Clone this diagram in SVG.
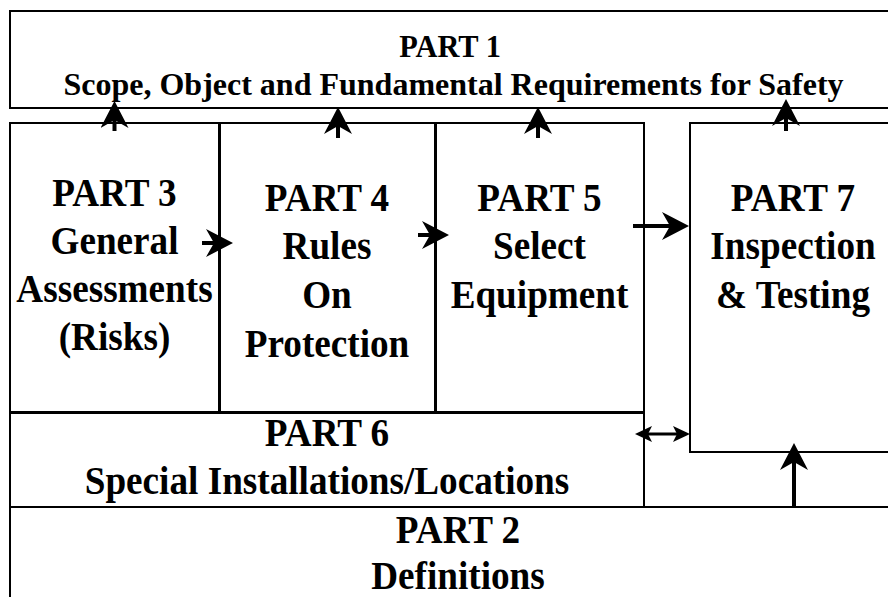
<svg xmlns="http://www.w3.org/2000/svg" width="888" height="597" viewBox="0 0 888 597">
<style>
.box{fill:#fff;stroke:#000;stroke-width:2}
.t{font-family:"Liberation Serif","Times New Roman",serif;font-weight:bold;font-size:40px;fill:#000;text-anchor:middle}
.s{font-size:32px}
.c{stroke:#000;stroke-width:4;fill:none}
.c2{stroke:#000;stroke-width:3;fill:none}
</style>
<defs>
<marker id="ah" markerUnits="userSpaceOnUse" viewBox="0 0 27 28" refX="20" refY="14" markerWidth="27" markerHeight="28" orient="auto">
<path d="M0,0 L27,14 L0,28 L8,14 Z" fill="#000"/>
</marker>
<marker id="sh" markerUnits="userSpaceOnUse" viewBox="0 0 17 16" refX="13" refY="8" markerWidth="17" markerHeight="16" orient="auto-start-reverse">
<path d="M0,0 L17,8 L0,16 L4,8 Z" fill="#000"/>
</marker>
</defs>
<rect width="888" height="597" fill="#fff"/>
<g id="part1">
<rect class="box" x="10" y="11" width="900" height="97"/>
<text class="t s" transform="translate(450,57) scale(0.95,1)">PART 1</text>
<text class="t s" x="453.5" y="95">Scope, Object and Fundamental Requirements for Safety</text>
</g>
<g id="part2">
<rect class="box" x="10" y="507" width="900" height="120"/>
<text class="t" transform="translate(458,543) scale(0.93,1)">PART 2</text>
<text class="t" transform="translate(458,589) scale(0.93,1)">Definitions</text>
</g>
<g id="part3">
<rect class="box" x="10" y="123" width="209" height="289"/>
<text class="t" transform="translate(114.5,206) scale(0.93,1)">PART 3</text>
<text class="t" transform="translate(114.5,254) scale(0.93,1)">General</text>
<text class="t" transform="translate(114.5,302) scale(0.93,1)">Assessments</text>
<text class="t" transform="translate(114.5,350) scale(0.93,1)">(Risks)</text>
</g>
<g id="part4">
<rect class="box" x="220" y="123" width="215" height="289"/>
<text class="t" transform="translate(327,211) scale(0.93,1)">PART 4</text>
<text class="t" transform="translate(327,259) scale(0.93,1)">Rules</text>
<text class="t" transform="translate(327,308) scale(0.93,1)">On</text>
<text class="t" transform="translate(327,357) scale(0.93,1)">Protection</text>
</g>
<g id="part5">
<rect class="box" x="436" y="123" width="208" height="289"/>
<text class="t" transform="translate(539.5,211) scale(0.93,1)">PART 5</text>
<text class="t" transform="translate(539.5,259) scale(0.93,1)">Select</text>
<text class="t" transform="translate(539.5,308) scale(0.93,1)">Equipment</text>
</g>
<g id="part6">
<rect class="box" x="10" y="413" width="634" height="94"/>
<text class="t" transform="translate(327,446) scale(0.93,1)">PART 6</text>
<text class="t" transform="translate(327,494) scale(0.93,1)">Special Installations/Locations</text>
</g>
<g id="part7">
<rect class="box" x="690" y="123" width="220" height="329"/>
<text class="t" transform="translate(793,211) scale(0.93,1)">PART 7</text>
<text class="t" transform="translate(793,259) scale(0.93,1)">Inspection</text>
<text class="t" transform="translate(793,308) scale(0.93,1)">&amp; Testing</text>
</g>
<g id="connectors">
<line class="c" x1="114.5" y1="131" x2="114.5" y2="108" marker-end="url(#ah)"/>
<line class="c" x1="338" y1="138" x2="338" y2="114" marker-end="url(#ah)"/>
<line class="c" x1="538" y1="138" x2="538" y2="114" marker-end="url(#ah)"/>
<line class="c" x1="786" y1="131" x2="786" y2="106" marker-end="url(#ah)"/>
<line class="c" x1="202" y1="243" x2="226" y2="243" marker-end="url(#ah)"/>
<line class="c" x1="418" y1="235" x2="442" y2="235" marker-end="url(#ah)"/>
<line class="c" x1="633" y1="226" x2="682" y2="226" marker-end="url(#ah)"/>
<line class="c" x1="794" y1="507" x2="794" y2="450" marker-end="url(#ah)"/>
<line class="c2" x1="639" y1="434" x2="686" y2="434" marker-start="url(#sh)" marker-end="url(#sh)"/>
</g>
</svg>
